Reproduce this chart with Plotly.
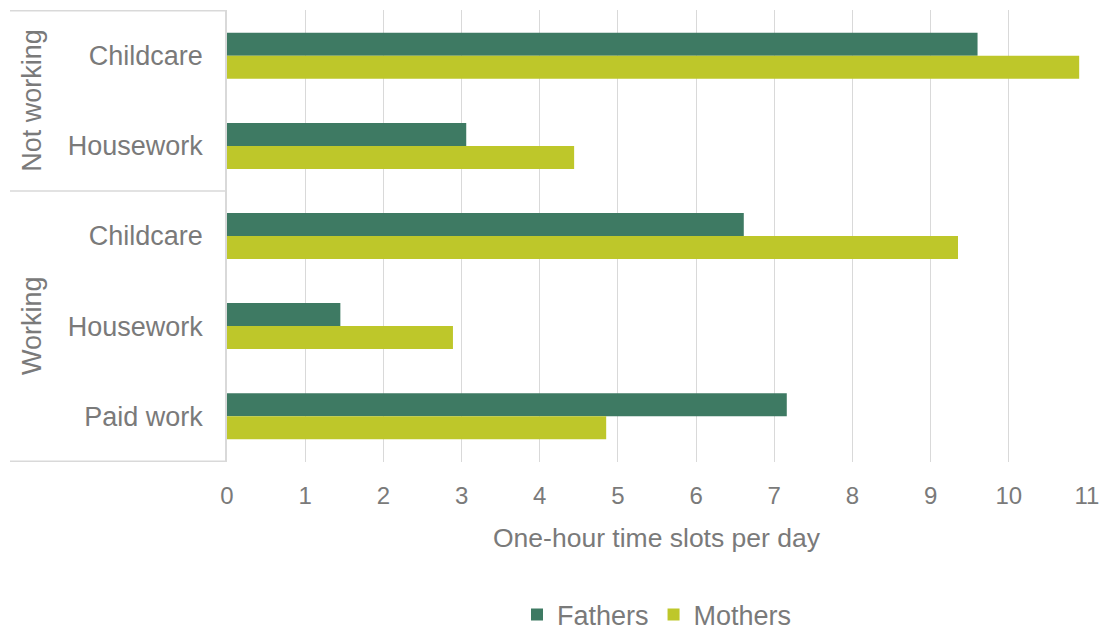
import plotly.graph_objects as go

groups = ["Not working", "Not working", "Working", "Working", "Working"]
activities = ["Childcare", "Housework", "Childcare", "Housework", "Paid work"]
fathers = [9.60, 3.06, 6.61, 1.45, 7.16]
mothers = [10.90, 4.44, 9.35, 2.89, 4.85]
x_ticks = list(range(0, 12))

FATHER_COLOR = "#3e7a63"
MOTHER_COLOR = "#bec72a"
TEXT_COLOR = "#7a7a7a"
LINE_COLOR = "#d9d9d9"
FONT = "Liberation Sans, Arial, sans-serif"

keys = [f"{g}|{a}" for g, a in zip(groups, activities)]

fig = go.Figure()
fig.add_trace(go.Bar(y=keys, x=fathers, orientation="h", name="Fathers",
                     marker=dict(color=FATHER_COLOR, line=dict(width=0))))
fig.add_trace(go.Bar(y=keys, x=mothers, orientation="h", name="Mothers",
                     marker=dict(color=MOTHER_COLOR, line=dict(width=0))))

L, R, T, B = 227, 18, 10, 171
W, H = 1105, 633
plot_w = W - L - R
plot_h = H - T - B

fig.update_layout(
    width=W, height=H, autosize=False,
    margin=dict(l=L, r=R, t=T, b=B, pad=0, autoexpand=False),
    paper_bgcolor="white", plot_bgcolor="white",
    barmode="group", bargap=0.49, bargroupgap=0,
    font=dict(family=FONT, color=TEXT_COLOR),
    showlegend=True,
    legend=dict(orientation="h", x=0.5, xanchor="center", yref="container",
                y=1 - 615 / H, yanchor="middle",
                font=dict(size=27, color=TEXT_COLOR), itemwidth=30, traceorder="normal"),
)

fig.update_xaxes(range=[0, 11], tickvals=x_ticks, showgrid=True, gridcolor=LINE_COLOR, gridwidth=1,
                 zeroline=False, showline=False, tickfont=dict(size=24, color=TEXT_COLOR),
                 ticks="", ticklabelstandoff=17, fixedrange=True, automargin=False)

fig.update_yaxes(type="category", categoryarray=keys, autorange="reversed",
                 tickvals=keys, ticktext=activities, tickfont=dict(size=27, color=TEXT_COLOR),
                 showline=True, linecolor=LINE_COLOR, linewidth=1.5, showgrid=False,
                 ticks="", ticklabelstandoff=17, automargin=False, fixedrange=True)

# axis title
fig.add_annotation(text="One-hour time slots per day", xref="paper", yref="paper",
                   x=0.5, y=-76 / plot_h, xanchor="center", yanchor="middle",
                   showarrow=False, font=dict(size=26.5, color=TEXT_COLOR))

# group labels and divider lines
left_edge = (10 - L) / plot_w
label_x = (32 - L) / plot_w
unique_groups = []
for g in groups:
    if g not in unique_groups:
        unique_groups.append(g)
boundaries = [-0.5]
for ug in unique_groups:
    idx = [i for i, g in enumerate(groups) if g == ug]
    start, end = idx[0], idx[-1]
    fig.add_annotation(text=ug, xref="paper", yref="y", x=label_x, y=(start + end) / 2,
                       textangle=-90, showarrow=False, xanchor="center", yanchor="middle",
                       font=dict(size=27, color=TEXT_COLOR))
    boundaries.append(end + 0.5)

for b in boundaries:
    fig.add_shape(type="line", xref="paper", yref="y", x0=left_edge, x1=0, y0=b, y1=b,
                  line=dict(color=LINE_COLOR, width=1.5), layer="below")

fig.write_html("out.html", config={"responsive": False, "displayModeBar": False},
               post_script="document.body.style.margin='0';document.body.style.overflow='hidden';")
